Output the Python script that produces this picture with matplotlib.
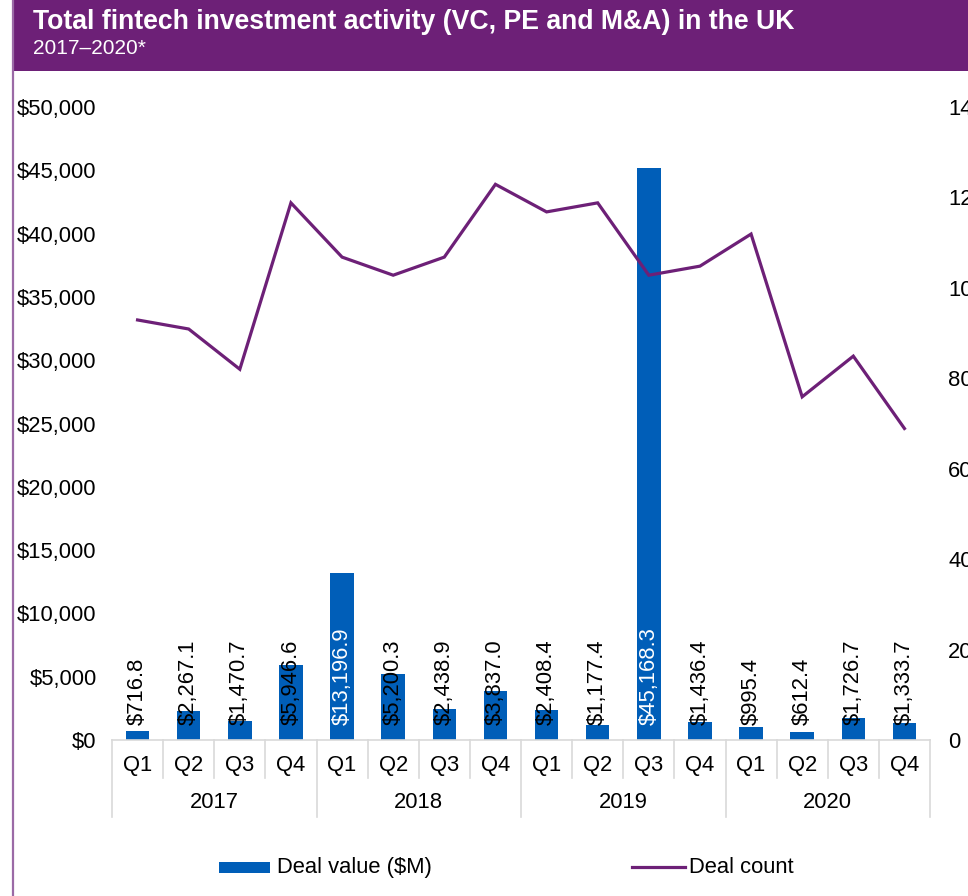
import matplotlib
matplotlib.use("Agg")
import matplotlib.pyplot as plt
from matplotlib.patches import Rectangle
from matplotlib.lines import Line2D
from matplotlib.ticker import FuncFormatter
import numpy as np

plt.rcParams['font.family'] = ['Liberation Sans', 'DejaVu Sans']

## data
years = ['2017', '2018', '2019', '2020']
quarters = ['Q1', 'Q2', 'Q3', 'Q4']
deal_value = [716.8, 2267.1, 1470.7, 5946.6,
              13196.9, 5200.3, 2438.9, 3837.0,
              2408.4, 1177.4, 45168.3, 1436.4,
              995.4, 612.4, 1726.7, 1333.7]
deal_count = [929, 909, 820, 1188,
              1068, 1028, 1068, 1229,
              1168, 1188, 1028, 1048,
              1119, 759, 849, 689]

purple = '#6D2077'
blue = '#005EB8'
grey = '#D9D9D9'
fs = 15.8

W, H = 968, 896
fig = plt.figure(figsize=(W / 100, H / 100), dpi=100)

## header band + left border
fig.add_artist(Rectangle((12 / W, 1 - 71 / H), 1, 71 / H, transform=fig.transFigure,
                         facecolor=purple, edgecolor='none'))
fig.add_artist(Line2D([13 / W, 13 / W], [0, 1], transform=fig.transFigure,
                      color='#9B6AA6', lw=1.6))
fig.text(33 / W, 1 - 22 / H, 'Total fintech investment activity (VC, PE and M&A) in the UK',
         color='white', fontsize=19.2, fontweight='bold', va='center', ha='left')
fig.text(33 / W, 1 - 49 / H, '2017\u20132020*', color='white', fontsize=15,
         va='center', ha='left')

## axes
left, right, top, bottom = 112, 930, 107, 740
ax = fig.add_axes([left / W, 1 - bottom / H, (right - left) / W, (bottom - top) / H])
n = len(deal_value)
x = np.arange(n)
ax.bar(x, deal_value, width=0.46, color=blue, zorder=2)
ax.set_xlim(-0.5, n - 0.5)
ax.set_ylim(0, 50000)
ax.set_yticks(np.arange(0, 50001, 5000))
ax.yaxis.set_major_formatter(FuncFormatter(lambda v, p: '${:,.0f}'.format(v)))
ax.tick_params(axis='y', length=0, pad=11, labelsize=fs)
ax.set_xticks([])
for s in ['top', 'right', 'left']:
    ax.spines[s].set_visible(False)
ax.spines['bottom'].set_color(grey)
ax.spines['bottom'].set_linewidth(1.2)

# bar labels at the base
for xi, v in zip(x, deal_value):
    col = 'white' if v > 10000 else 'black'
    ax.annotate('${:,.1f}'.format(v), xy=(xi, 0), xytext=(0, 15), textcoords='offset pixels',
                rotation=90, ha='center', va='bottom', fontsize=fs, color=col, zorder=3)

# multi-level category axis
trans = ax.get_xaxis_transform()
ax_h = bottom - top
for b in np.arange(-0.5, n, 1):
    is_year = abs((b + 0.5) % 4) < 1e-9
    depth = (817 - bottom) if is_year else (778 - bottom)
    ax.plot([b, b], [0, -depth / ax_h], transform=trans, color=grey, lw=1.2, clip_on=False)
for i in range(n):
    ax.text(i, -(766 - bottom) / ax_h, quarters[i % 4], transform=trans,
            ha='center', va='center', fontsize=fs)
for j, yr in enumerate(years):
    ax.text(4 * j + 1.5, -(803 - bottom) / ax_h, yr, transform=trans,
            ha='center', va='center', fontsize=fs)

## deal count on secondary axis
ax2 = ax.twinx()
ax2.plot(x, deal_count, color=purple, lw=2.3, zorder=4, solid_joinstyle='miter')
ax2.set_ylim(0, 1400)
ax2.set_yticks(np.arange(0, 1401, 200))
ax2.tick_params(axis='y', length=0, pad=13, labelsize=fs)
for s in ['top', 'right', 'left', 'bottom']:
    ax2.spines[s].set_visible(False)

## legend
ly = 1 - 867 / H
fig.add_artist(Rectangle((219 / W, ly - 5.5 / H), 51 / W, 11 / H, transform=fig.transFigure,
                         facecolor=blue, edgecolor='none'))
fig.text(277 / W, ly, 'Deal value ($M)', fontsize=fs, va='center', ha='left')
fig.add_artist(Line2D([632 / W, 685 / W], [ly, ly], transform=fig.transFigure,
                      color=purple, lw=2.3))
fig.text(689 / W, ly, 'Deal count', fontsize=fs, va='center', ha='left')

fig.savefig('out.png', dpi=100)
